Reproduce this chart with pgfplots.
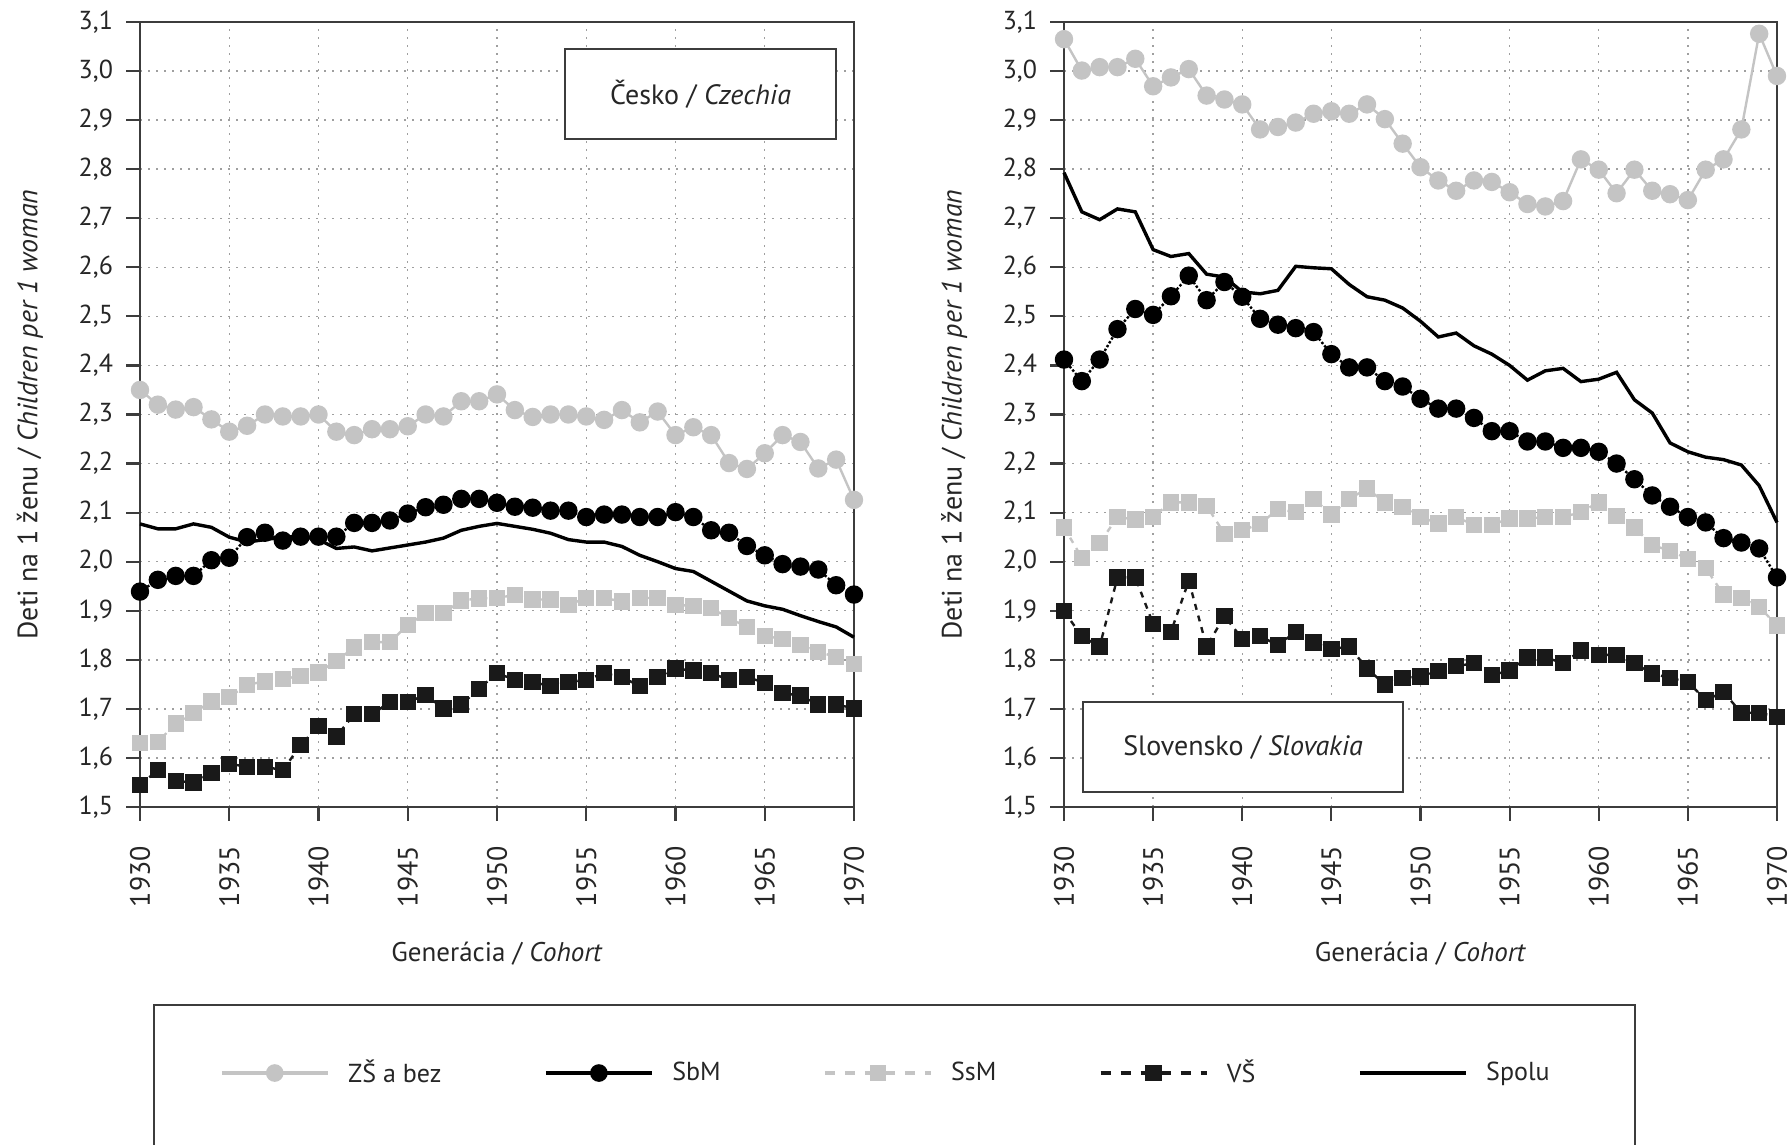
\documentclass[border=0pt]{standalone}
\usepackage{pgfplots}
\usepackage{pgfplotstable}
\pgfplotsset{compat=1.18}
\usepackage{fontspec}
\setmainfont{PT Sans}
\definecolor{lgray}{RGB}{196,196,196}
\definecolor{axgray}{RGB}{60,60,60}

\pgfplotstableread{
year zs sbm ssm vs spolu
1930 2.350 1.939 1.631 1.545 2.077
1931 2.320 1.963 1.633 1.575 2.067
1932 2.310 1.971 1.670 1.553 2.067
1933 2.315 1.971 1.692 1.550 2.077
1934 2.290 2.003 1.715 1.569 2.070
1935 2.265 2.008 1.724 1.588 2.050
1936 2.277 2.050 1.749 1.582 2.040
1937 2.300 2.059 1.756 1.582 2.045
1938 2.296 2.043 1.761 1.575 2.050
1939 2.296 2.051 1.767 1.626 2.052
1940 2.300 2.051 1.774 1.665 2.045
1941 2.265 2.051 1.798 1.644 2.027
1942 2.258 2.079 1.825 1.689 2.030
1943 2.270 2.079 1.836 1.689 2.022
1944 2.270 2.084 1.836 1.714 2.028
1945 2.276 2.098 1.871 1.714 2.034
1946 2.300 2.111 1.895 1.728 2.040
1947 2.296 2.116 1.895 1.701 2.048
1948 2.327 2.128 1.921 1.709 2.064
1949 2.327 2.128 1.925 1.741 2.072
1950 2.341 2.120 1.926 1.773 2.078
1951 2.309 2.112 1.932 1.759 2.072
1952 2.295 2.110 1.923 1.755 2.066
1953 2.300 2.104 1.923 1.746 2.058
1954 2.300 2.104 1.912 1.755 2.045
1955 2.296 2.091 1.926 1.759 2.040
1956 2.289 2.096 1.926 1.773 2.040
1957 2.309 2.096 1.919 1.765 2.031
1958 2.284 2.091 1.926 1.746 2.013
1959 2.306 2.091 1.926 1.765 2.000
1960 2.258 2.101 1.912 1.782 1.986
1961 2.274 2.091 1.910 1.778 1.980
1962 2.258 2.064 1.905 1.773 1.960
1963 2.201 2.059 1.885 1.759 1.940
1964 2.189 2.032 1.867 1.765 1.920
1965 2.221 2.013 1.848 1.753 1.910
1966 2.258 1.995 1.843 1.732 1.903
1967 2.244 1.990 1.830 1.727 1.890
1968 2.190 1.984 1.816 1.709 1.878
1969 2.208 1.952 1.806 1.709 1.867
1970 2.126 1.933 1.791 1.701 1.846
}\cz

\pgfplotstableread{
year zs sbm ssm vs spolu
1930 3.065 2.412 2.070 1.899 2.793
1931 3.001 2.368 2.008 1.848 2.713
1932 3.008 2.412 2.038 1.827 2.697
1933 3.008 2.474 2.091 1.968 2.719
1934 3.025 2.515 2.086 1.968 2.713
1935 2.969 2.503 2.091 1.873 2.636
1936 2.987 2.541 2.121 1.857 2.622
1937 3.004 2.583 2.121 1.961 2.628
1938 2.950 2.533 2.114 1.827 2.586
1939 2.942 2.570 2.057 1.889 2.580
1940 2.932 2.540 2.064 1.843 2.550
1941 2.881 2.495 2.077 1.848 2.546
1942 2.886 2.483 2.107 1.830 2.553
1943 2.895 2.476 2.101 1.857 2.602
1944 2.913 2.468 2.128 1.835 2.599
1945 2.918 2.423 2.096 1.822 2.597
1946 2.913 2.396 2.128 1.827 2.565
1947 2.932 2.396 2.149 1.782 2.540
1948 2.902 2.368 2.121 1.750 2.533
1949 2.852 2.357 2.112 1.763 2.517
1950 2.804 2.332 2.091 1.766 2.490
1951 2.777 2.312 2.078 1.777 2.458
1952 2.756 2.312 2.091 1.787 2.466
1953 2.777 2.293 2.075 1.793 2.440
1954 2.774 2.266 2.075 1.769 2.423
1955 2.753 2.266 2.088 1.778 2.400
1956 2.729 2.245 2.088 1.805 2.370
1957 2.724 2.245 2.091 1.805 2.389
1958 2.735 2.232 2.091 1.793 2.394
1959 2.820 2.232 2.101 1.819 2.367
1960 2.799 2.224 2.121 1.810 2.372
1961 2.751 2.200 2.093 1.810 2.386
1962 2.799 2.168 2.070 1.793 2.330
1963 2.756 2.135 2.034 1.772 2.303
1964 2.749 2.112 2.022 1.763 2.242
1965 2.737 2.091 2.006 1.755 2.224
1966 2.799 2.080 1.987 1.718 2.213
1967 2.820 2.048 1.933 1.734 2.208
1968 2.881 2.039 1.926 1.692 2.197
1969 3.076 2.027 1.908 1.692 2.155
1970 2.990 1.968 1.870 1.684 2.080
}\sk

\pgfplotsset{
  panel/.style={
    scale only axis,
    width=357pt, height=392.5pt,
    xmin=1930, xmax=1970, ymin=1.5, ymax=3.1,
    clip=false,
    axis line style={axgray, line width=1.1pt},
    xtick={1930,1935,...,1970},
    ytick={1.5,1.6,1.7,1.8,1.9,2.0,2.1,2.2,2.3,2.4,2.5,2.6,2.7,2.8,2.9,3.0,3.1},
    tick align=outside,
    major tick length=7pt,
    xtick pos=bottom, ytick pos=left,
    tick style={axgray, line width=1.1pt},
    grid=major,
    major grid style={gray!75, line width=0.7pt, dash pattern=on 1pt off 3pt},
    /pgf/number format/assume math mode=true,
    yticklabel={\pgfmathprintnumber[fixed,fixed zerofill,precision=1,use comma]{\tick}},
    xticklabel={\pgfmathprintnumber[1000 sep={}]{\tick}},
    xticklabel style={rotate=90, anchor=east, font=\fontsize{14}{16}\selectfont, text=black!85},
    yticklabel style={font=\fontsize{13}{15}\selectfont, text=black!85},
    xticklabel shift=9pt,
    yticklabel shift=3pt,
    xlabel style={at={(axis description cs:0.5,0)}, anchor=center, yshift=-73.5pt, font=\fontsize{13.5}{16}\selectfont, text=black!85},
    ylabel style={at={(axis description cs:-0.154,0.5)}, anchor=center, font=\fontsize{14}{16}\selectfont, text=black!85},
    xlabel={Generácia / \textit{Cohort}},
    ylabel={Deti na 1 ženu / \textit{Children per 1 woman}},
    legend image code/.code={\draw[mark repeat=2,mark phase=2,#1] plot coordinates {(0pt,0pt) (26.5pt,0pt) (53pt,0pt)};},
  },
  zs/.style={lgray, line width=1.2pt, mark=*, mark size=4pt, mark options={solid, fill=lgray, draw=lgray}},
  sbm/.style={black, line width=1.2pt, densely dotted, mark=*, mark size=4pt, mark options={solid, fill=black}},
  ssm/.style={lgray, line width=1.2pt, dashed, mark=square*, mark size=3.5pt, mark options={solid, fill=lgray, draw=lgray}},
  vs/.style={black!90, line width=1.2pt, dashed, mark=square*, mark size=3.5pt, mark options={solid, fill=black!90}},
  spolu/.style={black, line width=1.7pt, no marks},
}

\begin{document}
\begin{tikzpicture}
\useasboundingbox (0,0) rectangle (895pt,572.5pt);
\draw[axgray, line width=1.1pt] (77pt,-20pt) rectangle (817.5pt,70pt);

\begin{axis}[panel, at={(70pt,169pt)}, anchor=south west,
  legend columns=5,
  legend style={draw=none, fill=none, at={(axis description cs:0.1106,-0.3389)}, anchor=west, inner sep=0pt,
    font=\fontsize{13}{15}\selectfont, text=black!85,
    /tikz/every odd column/.append style={column sep=7pt},
    /tikz/every even column/.append style={column sep=49pt}},
  ]
\addplot[zs, forget plot] table[x=year,y=zs] {\cz};
\addplot[sbm, forget plot] table[x=year,y=sbm] {\cz};
\addplot[ssm, forget plot] table[x=year,y=ssm] {\cz};
\addplot[vs, forget plot] table[x=year,y=vs] {\cz};
\addplot[spolu, forget plot] table[x=year,y=spolu] {\cz};
\addlegendimage{lgray, line width=2.4pt, mark=*, mark size=3.2pt, mark options={solid, fill=lgray, draw=lgray}}
\addlegendentry{ZŠ a bez}
\addlegendimage{black, line width=2.4pt, mark=*, mark size=3.2pt, mark options={solid, fill=black}}
\addlegendentry{SbM}
\addlegendimage{lgray, line width=2.2pt, dash pattern=on 5pt off 5pt, mark=square*, mark size=3pt, mark options={solid, fill=lgray, draw=lgray}}
\addlegendentry{SsM}
\addlegendimage{black!90, line width=2.2pt, dash pattern=on 5pt off 5pt, mark=square*, mark size=3pt, mark options={solid, fill=black!90}}
\addlegendentry{VŠ}
\addlegendimage{black, line width=2.4pt, no marks}
\addlegendentry{Spolu}
\node[draw=axgray, line width=1.1pt, fill=white, minimum width=135.5pt, minimum height=45pt,
  font=\fontsize{14}{16}\selectfont, text=black!85] at (rel axis cs:0.785,0.9083) {Česko / \textit{Czechia}};
\end{axis}

\begin{axis}[panel, width=356.5pt, at={(532pt,169pt)}, anchor=south west]
\addplot[zs] table[x=year,y=zs] {\sk};
\addplot[sbm] table[x=year,y=sbm] {\sk};
\addplot[ssm] table[x=year,y=ssm] {\sk};
\addplot[vs] table[x=year,y=vs] {\sk};
\addplot[spolu] table[x=year,y=spolu] {\sk};
\node[draw=axgray, line width=1.1pt, fill=white, minimum width=160pt, minimum height=45pt,
  font=\fontsize{14}{16}\selectfont, text=black!85] at (rel axis cs:0.251,0.0764) {Slovensko / \textit{Slovakia}};
\end{axis}
\end{tikzpicture}
\end{document}
